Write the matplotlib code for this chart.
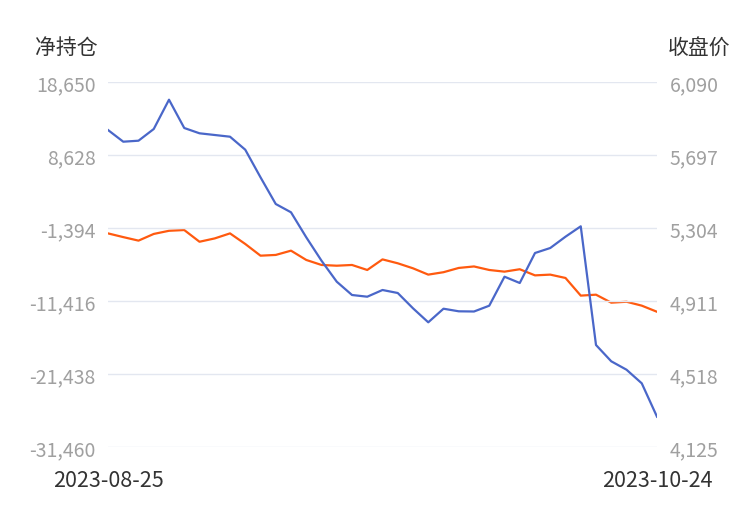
import matplotlib.pyplot as plt
from matplotlib.ticker import FuncFormatter

plt.rcParams['font.family'] = ['Noto Sans CJK SC', 'DejaVu Sans']

# trading days
dates = ['2023-08-25', '2023-08-28', '2023-08-29', '2023-08-30', '2023-08-31',
         '2023-09-01', '2023-09-04', '2023-09-05', '2023-09-06', '2023-09-07',
         '2023-09-08', '2023-09-11', '2023-09-12', '2023-09-13', '2023-09-14',
         '2023-09-15', '2023-09-18', '2023-09-19', '2023-09-20', '2023-09-21',
         '2023-09-22', '2023-09-25', '2023-09-26', '2023-09-27', '2023-09-28',
         '2023-10-09', '2023-10-10', '2023-10-11', '2023-10-12', '2023-10-13',
         '2023-10-16', '2023-10-17', '2023-10-18', '2023-10-19', '2023-10-20',
         '2023-10-23', '2023-10-24']

# net position (left axis)
net_pos = [12060, 10454, 10591, 12197, 16220, 12335, 11607, 11374, 11140, 9355,
           5566, 1901, 761, -2671, -5884, -8767, -10593, -10826, -9906, -10318,
           -12419, -14341, -12474, -12831, -12858, -12062, -8080, -8945, -4827, -4140,
           -2589, -1161, -17457, -19695, -20848, -22716, -27301]

# close price (right axis)
close = [5275, 5255, 5236, 5272, 5289, 5293, 5230, 5248, 5275, 5218,
         5155, 5159, 5182, 5132, 5105, 5101, 5105, 5078, 5135, 5114,
         5087, 5053, 5066, 5089, 5097, 5078, 5069, 5082, 5049, 5053,
         5035, 4940, 4945, 4902, 4907, 4886, 4853]

left_ticks = [-31460, -21438, -11416, -1394, 8628, 18650]
right_ticks = [4125, 4518, 4911, 5304, 5697, 6090]

x = list(range(len(dates)))

fig = plt.figure(figsize=(7.5, 5.1), dpi=100)
ax = fig.add_axes([108 / 750, 1 - 448 / 510, 549 / 750, 365 / 510])
ax2 = ax.twinx()

ax.plot(x, net_pos, color='#4a67c9', lw=1.6, zorder=3)
ax2.plot(x, close, color='#ff5a0f', lw=1.6)
ax.set_zorder(ax2.get_zorder() + 1)
ax.patch.set_visible(False)

ax.set_xlim(0, len(dates) - 1)
ax.set_ylim(left_ticks[0], left_ticks[-1])
ax2.set_ylim(right_ticks[0], right_ticks[-1])
ax.set_yticks(left_ticks)
ax2.set_yticks(right_ticks)

fmt = FuncFormatter(lambda v, p: f'{int(v):,}')
ax.yaxis.set_major_formatter(fmt)
ax2.yaxis.set_major_formatter(fmt)

ax.grid(axis='y', color='#e3e7f0', lw=1)
ax.set_xticks([0, len(dates) - 1])
ax.set_xticklabels([dates[0], dates[-1]], fontsize=15.5, color='#333333')

for a in (ax, ax2):
    for s in a.spines.values():
        s.set_visible(False)
    a.tick_params(length=0)
    a.tick_params(axis='y', labelsize=14, labelcolor='#a0a0a0', pad=9)
    for lab in a.get_yticklabels():
        lab.set_verticalalignment('center_baseline')
ax.tick_params(axis='x', pad=16)

fig.text(35 / 750, 1 - 48 / 510, '净持仓', fontsize=15, color='#333333', va='center', ha='left')
fig.text(730 / 750, 1 - 48 / 510, '收盘价', fontsize=15, color='#333333', va='center', ha='right')

fig.savefig('out.png', dpi=100)
